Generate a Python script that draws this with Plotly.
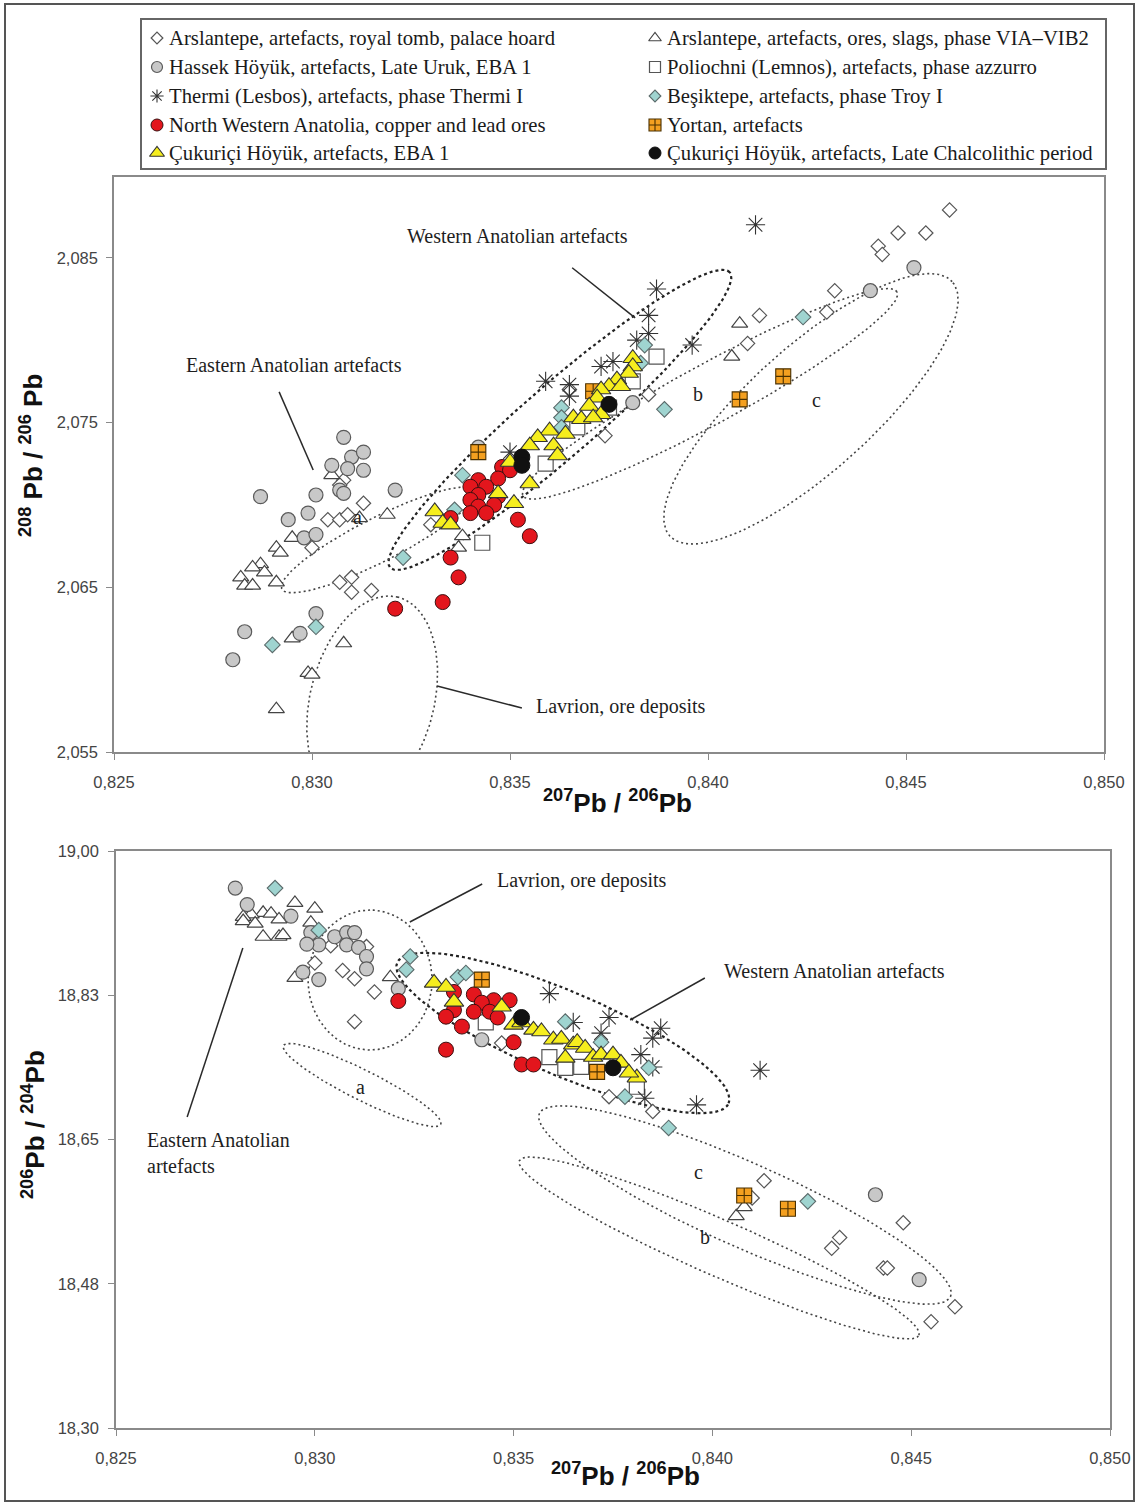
import numpy as np
import plotly.graph_objects as go

W, H = 1137, 1504

# ---------------- data ----------------
legend_labels = [
    "Arslantepe, artefacts, royal tomb, palace hoard",
    "Arslantepe, artefacts, ores, slags, phase VIA\u2013VIB2",
    "Hassek Höyük, artefacts, Late Uruk, EBA 1",
    "Poliochni (Lemnos), artefacts, phase azzurro",
    "Thermi (Lesbos), artefacts, phase Thermi I",
    "Beşiktepe, artefacts, phase Troy I",
    "North Western Anatolia, copper and lead ores",
    "Yortan, artefacts",
    "Çukuriçi Höyük, artefacts, EBA 1",
    "Çukuriçi Höyük, artefacts, Late Chalcolithic period",
]

# top panel: 207Pb/206Pb (x) vs 208Pb/206Pb (y)
arsl_tomb_top_x = [0.8461, 0.8455, 0.8448, 0.8443, 0.8444, 0.8432, 0.8430, 0.8413, 0.8410, 0.8385, 0.8374, 0.8365,
                   0.8308, 0.8307, 0.8313, 0.8304, 0.8307, 0.8309, 0.8300, 0.8307, 0.8310, 0.8310, 0.8315, 0.8330]
arsl_tomb_top_y = [2.0879, 2.0865, 2.0865, 2.0857, 2.0852, 2.0830, 2.0817, 2.0815, 2.0798, 2.0767, 2.0742, 2.0770,
                   2.0715, 2.0712, 2.0701, 2.0691, 2.0691, 2.0694, 2.0674, 2.0653, 2.0656, 2.0647, 2.0648, 2.0688]
arsl_ores_top_x = [0.8408, 0.8406, 0.8305, 0.8312, 0.8319, 0.8295, 0.8291, 0.8292, 0.8287, 0.8285, 0.8288, 0.8282,
                   0.8283, 0.8285, 0.8291, 0.8295, 0.8308, 0.8299, 0.8300, 0.8291, 0.8338, 0.8337]
arsl_ores_top_y = [2.0810, 2.0790, 2.0718, 2.0692, 2.0694, 2.0680, 2.0674, 2.0671, 2.0664, 2.0662, 2.0659, 2.0656,
                   2.0651, 2.0651, 2.0653, 2.0619, 2.0616, 2.0598, 2.0597, 2.0576, 2.0681, 2.0674]
hassek_top_x = [0.8452, 0.8441, 0.8381, 0.8321, 0.8342, 0.8308, 0.8310, 0.8313, 0.8305, 0.8309, 0.8313, 0.8307,
                0.8308, 0.8287, 0.8301, 0.8299, 0.8294, 0.8298, 0.8301, 0.8301, 0.8297, 0.8283, 0.8280]
hassek_top_y = [2.0844, 2.0830, 2.0762, 2.0709, 2.0735, 2.0741, 2.0729, 2.0732, 2.0724, 2.0722, 2.0721, 2.0709,
                2.0707, 2.0705, 2.0706, 2.0695, 2.0691, 2.0680, 2.0682, 2.0634, 2.0622, 2.0623, 2.0606]
poliochni_top_x = [0.8387, 0.8381, 0.8359, 0.8343, 0.8367, 0.8375]
poliochni_top_y = [2.0790, 2.0775, 2.0725, 2.0677, 2.0747, 2.0759]
thermi_top_x = [0.8412, 0.8387, 0.8385, 0.8385, 0.8382, 0.8396, 0.8376, 0.8373, 0.8365, 0.8365, 0.8359, 0.8350]
thermi_top_y = [2.0870, 2.0831, 2.0815, 2.0804, 2.0800, 2.0797, 2.0787, 2.0784, 2.0773, 2.0766, 2.0775, 2.0732]
besik_top_x = [0.8424, 0.8389, 0.8384, 0.8383, 0.8363, 0.8363, 0.8363, 0.8338, 0.8336, 0.8323, 0.8290, 0.8301]
besik_top_y = [2.0814, 2.0758, 2.0797, 2.0786, 2.0759, 2.0753, 2.0747, 2.0718, 2.0697, 2.0668, 2.0615, 2.0626]
nwa_top_x = [0.8348, 0.8350, 0.8347, 0.8342, 0.8340, 0.8344, 0.8342, 0.8347, 0.8340, 0.8346, 0.8342, 0.8340,
             0.8344, 0.8335, 0.8352, 0.8355, 0.8335, 0.8337, 0.8333, 0.8321]
nwa_top_y = [2.0723, 2.0721, 2.0716, 2.0715, 2.0711, 2.0711, 2.0706, 2.0705, 2.0703, 2.0700, 2.0699, 2.0695,
             2.0695, 2.0692, 2.0691, 2.0681, 2.0668, 2.0656, 2.0641, 2.0637]
yortan_top_x = [0.8419, 0.8408, 0.8342, 0.8371]
yortan_top_y = [2.0778, 2.0764, 2.0732, 2.0769]
cuk_eba_top_x = [0.8381, 0.8381, 0.8380, 0.8377, 0.8375, 0.8378, 0.8373, 0.8372, 0.8370, 0.8373, 0.8366, 0.8368,
                 0.8371, 0.8360, 0.8357, 0.8364, 0.8355, 0.8361, 0.8362, 0.8350, 0.8355, 0.8347, 0.8351, 0.8331,
                 0.8333, 0.8335]
cuk_eba_top_y = [2.0789, 2.0784, 2.0780, 2.0776, 2.0772, 2.0772, 2.0770, 2.0765, 2.0760, 2.0755, 2.0753, 2.0752,
                 2.0753, 2.0745, 2.0741, 2.0743, 2.0736, 2.0736, 2.0730, 2.0726, 2.0713, 2.0707, 2.0701, 2.0696,
                 2.0689, 2.0688]
cuk_lc_top_x = [0.8375, 0.8353, 0.8353]
cuk_lc_top_y = [2.0761, 2.0729, 2.0724]

# bottom panel: 207Pb/206Pb (x) vs 206Pb/204Pb (y)
arsl_tomb_bot_x = [0.8413, 0.8410, 0.8432, 0.8430, 0.8443, 0.8444, 0.8448, 0.8461, 0.8455, 0.8374, 0.8385,
                   0.8304, 0.8313, 0.8300, 0.8307, 0.8310, 0.8315, 0.8310, 0.8347]
arsl_tomb_bot_y = [18.600, 18.579, 18.531, 18.518, 18.494, 18.494, 18.549, 18.447, 18.429, 18.702, 18.684,
                   18.885, 18.884, 18.864, 18.855, 18.845, 18.829, 18.793, 18.767]
arsl_ores_bot_x = [0.8295, 0.8300, 0.8287, 0.8284, 0.8282, 0.8282, 0.8289, 0.8291, 0.8285, 0.8287, 0.8291,
                   0.8292, 0.8299, 0.8295, 0.8319, 0.8406, 0.8408]
arsl_ores_bot_y = [18.937, 18.930, 18.925, 18.923, 18.920, 18.915, 18.924, 18.917, 18.912, 18.896, 18.896,
                   18.898, 18.913, 18.846, 18.847, 18.557, 18.568]
hassek_bot_x = [0.8280, 0.8283, 0.8294, 0.8299, 0.8301, 0.8298, 0.8305, 0.8308, 0.8310, 0.8308, 0.8311, 0.8313,
                0.8313, 0.8297, 0.8301, 0.8321, 0.8441, 0.8452, 0.8342]
hassek_bot_y = [18.955, 18.935, 18.921, 18.901, 18.886, 18.887, 18.896, 18.901, 18.901, 18.886, 18.883, 18.872,
                18.857, 18.853, 18.844, 18.833, 18.583, 18.480, 18.771]
poliochni_bot_x = [0.8343, 0.8359, 0.8363, 0.8367, 0.8381]
poliochni_bot_y = [18.792, 18.750, 18.737, 18.738, 18.714]
thermi_bot_x = [0.8359, 0.8374, 0.8387, 0.8385, 0.8412, 0.8396, 0.8372, 0.8382, 0.8385, 0.8383, 0.8365]
thermi_bot_y = [18.827, 18.798, 18.785, 18.773, 18.734, 18.692, 18.779, 18.753, 18.738, 18.700, 18.792]
besik_bot_x = [0.8290, 0.8301, 0.8324, 0.8323, 0.8336, 0.8338, 0.8363, 0.8372, 0.8384, 0.8378, 0.8389, 0.8424]
besik_bot_y = [18.955, 18.904, 18.872, 18.856, 18.847, 18.852, 18.793, 18.768, 18.737, 18.702, 18.664, 18.575]
nwa_bot_x = [0.8321, 0.8335, 0.8340, 0.8345, 0.8349, 0.8342, 0.8340, 0.8344, 0.8346, 0.8335, 0.8333, 0.8337,
             0.8350, 0.8333, 0.8352, 0.8355]
nwa_bot_y = [18.818, 18.829, 18.826, 18.819, 18.819, 18.816, 18.805, 18.805, 18.798, 18.807, 18.799, 18.787,
             18.768, 18.759, 18.741, 18.741]
yortan_bot_x = [0.8342, 0.8371, 0.8408, 0.8419]
yortan_bot_y = [18.844, 18.732, 18.582, 18.566]
cuk_eba_bot_x = [0.8330, 0.8333, 0.8335, 0.8347, 0.8350, 0.8352, 0.8355, 0.8357, 0.8360, 0.8362, 0.8365, 0.8366,
                 0.8368, 0.8363, 0.8370, 0.8372, 0.8375, 0.8377, 0.8381, 0.8379]
cuk_eba_bot_y = [18.840, 18.835, 18.817, 18.811, 18.789, 18.792, 18.783, 18.781, 18.771, 18.772, 18.765, 18.768,
                 18.761, 18.749, 18.750, 18.753, 18.753, 18.743, 18.725, 18.731]
cuk_lc_bot_x = [0.8352, 0.8375]
cuk_lc_bot_y = [18.798, 18.737]

x_ticks = [0.825, 0.830, 0.835, 0.840, 0.845, 0.850]
top_y_ticks = [2.055, 2.065, 2.075, 2.085]
bot_y_ticks = [18.30, 18.475, 18.65, 18.825, 19.00]
bot_y_ticktext = ["18,30", "18,48", "18,65", "18,83", "19,00"]

# ---------------- layout geometry ----------------
TOP_DX = [114 / W, 1104 / W]
TOP_DY = [1 - 752 / H, 1 - 177 / H]
BOT_DX = [116 / W, 1110 / W]
BOT_DY = [1 - 1428 / H, 1 - 851 / H]
X_RANGE = [0.825, 0.850]
TOP_YR = [2.055, 2.0899]
BOT_YR = [18.30, 19.00]

styles = [
    dict(symbol="diamond", size=11, color="white", line=dict(color="#555555", width=1.2)),
    dict(symbol="triangle-up", size=14, color="white", line=dict(color="#444444", width=1.2)),
    dict(symbol="circle", size=14, color="#c8c8c8", line=dict(color="#5a5a5a", width=1.2)),
    dict(symbol="square", size=15, color="white", line=dict(color="#555555", width=1.2)),
    dict(symbol="asterisk-open", size=16, color="#333333", line=dict(color="#333333", width=1.1)),
    dict(symbol="diamond", size=12, color="#9fd4d0", line=dict(color="#5a6a6a", width=1.1)),
    dict(symbol="circle", size=15, color="#e3161d", line=dict(color="#3a1010", width=1)),
    dict(symbol="square-cross", size=15, color="#f4a020", line=dict(color="#4a3000", width=1.1)),
    dict(symbol="triangle-up", size=17, color="#f6ee1e", line=dict(color="#333333", width=1.1)),
    dict(symbol="circle", size=16, color="#111111", line=dict(color="#111111", width=1)),
]
legend_sizes = [9, 11, 11, 11, 11, 9, 12, 12, 13, 12]

top_data = [(arsl_tomb_top_x, arsl_tomb_top_y), (arsl_ores_top_x, arsl_ores_top_y), (hassek_top_x, hassek_top_y),
            (poliochni_top_x, poliochni_top_y), (thermi_top_x, thermi_top_y), (besik_top_x, besik_top_y),
            (nwa_top_x, nwa_top_y), (yortan_top_x, yortan_top_y), (cuk_eba_top_x, cuk_eba_top_y),
            (cuk_lc_top_x, cuk_lc_top_y)]
bot_data = [(arsl_tomb_bot_x, arsl_tomb_bot_y), (arsl_ores_bot_x, arsl_ores_bot_y), (hassek_bot_x, hassek_bot_y),
            (poliochni_bot_x, poliochni_bot_y), (thermi_bot_x, thermi_bot_y), (besik_bot_x, besik_bot_y),
            (nwa_bot_x, nwa_bot_y), (yortan_bot_x, yortan_bot_y), (cuk_eba_bot_x, cuk_eba_bot_y),
            (cuk_lc_bot_x, cuk_lc_bot_y)]

fig = go.Figure()

# ---------------- field ellipses (annotation geometry) ----------------
top_xpp = (X_RANGE[1] - X_RANGE[0]) / ((TOP_DX[1] - TOP_DX[0]) * W)
top_ypp = (TOP_YR[1] - TOP_YR[0]) / ((TOP_DY[1] - TOP_DY[0]) * H)
bot_xpp = (X_RANGE[1] - X_RANGE[0]) / ((BOT_DX[1] - BOT_DX[0]) * W)
bot_ypp = (BOT_YR[1] - BOT_YR[0]) / ((BOT_DY[1] - BOT_DY[0]) * H)


def ellipse(cx, cy, a, b, ang, xpp, ypp):
    t = np.linspace(0, 2 * np.pi, 241)
    th = np.radians(ang)
    dx = a * np.cos(t) * np.cos(th) - b * np.sin(t) * np.sin(th)
    dy = a * np.cos(t) * np.sin(th) + b * np.sin(t) * np.cos(th)
    return cx + dx * xpp, cy + dy * ypp


# (center x, center y, semi-axis a px, semi-axis b px, angle deg, bold?)
top_fields = [
    (0.83626, 2.07516, 225, 36, 41, True),    # Western Anatolian
    (0.83167, 2.06787, 108, 22, 27, False),   # a
    (0.84005, 2.07674, 213, 30, 28.6, False),  # b
    (0.84260, 2.07583, 190, 62, 42, False),   # c
    (0.83152, 2.05816, 106, 62, 76, False),   # Lavrion
]
bot_fields = [
    (0.83624, 18.7792, 180, 42, -23, True),   # Western Anatolian
    (0.83119, 18.7161, 88, 15, -26.6, False),  # a
    (0.84082, 18.5705, 225, 42, -24, False),  # c
    (0.84017, 18.5184, 218, 28, -23.6, False),  # b
    (0.83139, 18.8435, 70, 62, 90, False),    # Lavrion
]

for fields, xa, ya, xpp, ypp in [(top_fields, "x", "y", top_xpp, top_ypp),
                                  (bot_fields, "x2", "y2", bot_xpp, bot_ypp)]:
    for cx, cy, a, b, ang, bold in fields:
        ex, ey = ellipse(cx, cy, a, b, ang, xpp, ypp)
        fig.add_trace(go.Scatter(
            x=ex, y=ey, mode="lines", xaxis=xa, yaxis=ya, showlegend=False, hoverinfo="skip",
            line=dict(color="#222222" if bold else "#444444", width=2.2 if bold else 1.6,
                      dash="3px,3px" if bold else "2px,3px")))

# ---------------- data markers ----------------
for i in range(len(legend_labels)):
    for (xs, ys), xa, ya in [(top_data[i], "x", "y"), (bot_data[i], "x2", "y2")]:
        fig.add_trace(go.Scatter(x=xs, y=ys, mode="markers", xaxis=xa, yaxis=ya, name=legend_labels[i],
                                 showlegend=False, marker=styles[i]))

# ---------------- manual legend ----------------
LEG_X = [142, 1105]
LEG_Y = [20, 168]
col_x = [157, 655]
row_y = [38, 67, 96, 125, 153]
for i, lab in enumerate(legend_labels):
    cx = col_x[i % 2]
    cy = row_y[i // 2]
    st = dict(styles[i])
    st["size"] = legend_sizes[i]
    fig.add_trace(go.Scatter(x=[cx], y=[cy], mode="markers", xaxis="x3", yaxis="y3", showlegend=False,
                             hoverinfo="skip", marker=st))
    fig.add_annotation(x=cx + 10, y=cy, xref="x3", yref="y3", text=lab, showarrow=False, xanchor="left",
                       yanchor="middle", font=dict(family="Liberation Serif", size=20.7, color="#1a1a1a"))

# ---------------- labels and leader lines ----------------
labels = [
    ("x", "y", 0.83518, 2.08633, "Western Anatolian artefacts", "center"),
    ("x", "y", 0.82955, 2.07850, "Eastern Anatolian artefacts", "center"),
    ("x", "y", 0.83780, 2.05779, "Lavrion, ore deposits", "center"),
    ("x", "y", 0.83114, 2.06927, "a", "center"),
    ("x", "y", 0.83975, 2.07674, "b", "center"),
    ("x", "y", 0.84275, 2.07637, "c", "center"),
    ("x2", "y2", 0.83672, 18.9636, "Lavrion, ore deposits", "center"),
    ("x2", "y2", 0.84308, 18.8544, "Western Anatolian artefacts", "center"),
    ("x2", "y2", 0.82573, 18.6336, "Eastern Anatolian<br>artefacts", "left"),
    ("x2", "y2", 0.83114, 18.7137, "a", "center"),
    ("x2", "y2", 0.83981, 18.5317, "b", "center"),
    ("x2", "y2", 0.83964, 18.6106, "c", "center"),
]
for xr, yr, lx, ly, txt, anc in labels:
    fig.add_annotation(x=lx, y=ly, xref=xr, yref=yr, text=txt, showarrow=False, xanchor=anc, yanchor="middle",
                       align="left", font=dict(family="Liberation Serif", size=20, color="#1e1e1e"))

leaders = [
    ("x", "y", 0.83657, 2.08439, 0.83816, 2.08135),
    ("x", "y", 0.82917, 2.07686, 0.83003, 2.07212),
    ("x", "y", 0.83316, 2.05901, 0.83530, 2.05767),
    ("x2", "y2", 0.83239, 18.9139, 0.83421, 18.9600),
    ("x2", "y2", 0.83793, 18.7950, 0.83981, 18.8459),
    ("x2", "y2", 0.82679, 18.6773, 0.82819, 18.8823),
]
for xr, yr, x0, y0, x1, y1 in leaders:
    fig.add_shape(type="line", xref=xr, yref=yr, x0=x0, y0=y0, x1=x1, y1=y1,
                  line=dict(color="#2a2a2a", width=1.5))

# outer frame
fig.add_shape(type="rect", xref="paper", yref="paper", x0=5 / W, x1=1 - 3 / W, y0=3 / H, y1=1 - 4 / H,
              line=dict(color="#555555", width=2))

# ---------------- axis titles ----------------
def bold_font():
    return dict(family="Liberation Sans", size=26, color="#111111")


fig.add_annotation(x=617 / W, y=1 - 801 / H, xref="paper", yref="paper", showarrow=False, xanchor="center",
                   yanchor="middle", text="<b><sup>207</sup>Pb / <sup>206</sup>Pb</b>", font=bold_font())
fig.add_annotation(x=625 / W, y=1 - 1474 / H, xref="paper", yref="paper", showarrow=False, xanchor="center",
                   yanchor="middle", text="<b><sup>207</sup>Pb / <sup>206</sup>Pb</b>", font=bold_font())
fig.add_annotation(x=31 / W, y=1 - 456 / H, xref="paper", yref="paper", showarrow=False, textangle=-90,
                   xanchor="center", yanchor="middle",
                   text="<b><sup>208</sup> Pb / <sup>206</sup> Pb</b>", font=bold_font())
fig.add_annotation(x=33 / W, y=1 - 1125 / H, xref="paper", yref="paper", showarrow=False, textangle=-90,
                   xanchor="center", yanchor="middle",
                   text="<b><sup>206</sup>Pb / <sup>204</sup>Pb</b>", font=bold_font())

tickfont = dict(family="Liberation Sans", size=16.5, color="#444444")
axis_common = dict(showgrid=False, zeroline=False, showline=True, mirror=True, linecolor="#8a8a8a",
                   linewidth=1.5, ticks="outside", ticklen=6, tickcolor="#8a8a8a", tickfont=tickfont,
                   automargin=False)

fig.update_layout(
    width=W, height=H, autosize=False,
    margin=dict(l=0, r=0, t=0, b=0, pad=0, autoexpand=False),
    paper_bgcolor="white", plot_bgcolor="rgba(0,0,0,0)", separators=", ", showlegend=False,
    xaxis=dict(domain=TOP_DX, range=X_RANGE, anchor="y", tickvals=x_ticks, tickformat=".3f",
               ticklabelstandoff=8, **axis_common),
    yaxis=dict(domain=TOP_DY, range=TOP_YR, anchor="x", tickvals=top_y_ticks, tickformat=".3f",
               ticklabelstandoff=5, **axis_common),
    xaxis2=dict(domain=BOT_DX, range=X_RANGE, anchor="y2", tickvals=x_ticks, tickformat=".3f",
                ticklabelstandoff=8, **axis_common),
    yaxis2=dict(domain=BOT_DY, range=BOT_YR, anchor="x2", tickvals=bot_y_ticks, ticktext=bot_y_ticktext,
                ticklabelstandoff=6, **axis_common),
    xaxis3=dict(domain=[LEG_X[0] / W, LEG_X[1] / W], range=LEG_X, anchor="y3", showgrid=False, zeroline=False,
                showticklabels=False, ticks="", showline=True, mirror=True, linecolor="#666666", linewidth=1.5,
                automargin=False),
    yaxis3=dict(domain=[1 - LEG_Y[1] / H, 1 - LEG_Y[0] / H], range=[LEG_Y[1], LEG_Y[0]], anchor="x3",
                showgrid=False, zeroline=False, showticklabels=False, ticks="", showline=True, mirror=True,
                linecolor="#666666", linewidth=1.5, automargin=False),
)

fig.write_html("out.html", config={"displayModeBar": False},
               post_script="document.body.style.margin='0px';document.body.style.overflow='hidden';")
